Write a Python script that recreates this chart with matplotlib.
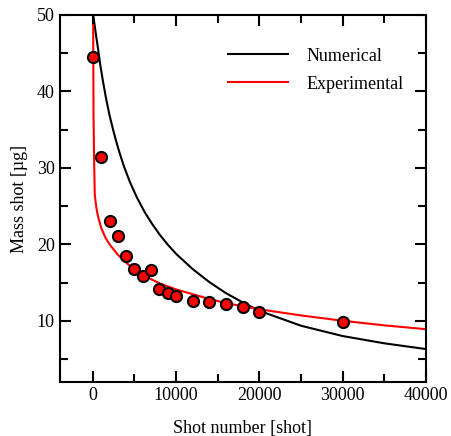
import numpy as np
import matplotlib
matplotlib.use('Agg')
import matplotlib.pyplot as plt
from matplotlib.ticker import MultipleLocator

plt.rcParams['font.family'] = ['Liberation Serif', 'DejaVu Serif']
plt.rcParams['mathtext.fontset'] = 'stix'

# measured points
shot_exp = [0, 1000, 2000, 3000, 4000, 5000, 6000, 7000, 8000, 9000, 10000,
            12000, 14000, 16000, 18000, 20000, 30000]
mass_exp = [44.55, 31.4, 23.0, 21.07, 18.45, 16.8, 15.9, 16.6, 14.1, 13.6, 13.3,
            12.65, 12.45, 12.25, 11.85, 11.2, 9.8]

# numerical curve
shot_num = [25, 300, 620, 900, 1220, 1600, 2000, 2500, 3030, 3700, 4430, 5300,
            6230, 7100, 8000, 9000, 10000, 12000, 14000, 16000, 18000, 20000,
            25000, 30000, 35000, 40000]
mass_num = [50.2, 48.0, 45.6, 43.4, 41.3, 39.0, 36.9, 34.7, 32.6, 30.3, 28.2, 26.1,
            24.2, 22.7, 21.3, 19.95, 18.75, 16.75, 15.05, 13.6, 12.4, 11.3,
            9.35, 8.0, 7.05, 6.3]

# experimental fit curve
shot_fit = [40, 80, 160, 230, 360, 500, 680, 1020, 1500, 2000, 3030, 4000, 5000,
            6700, 8000, 10000, 13500, 16000, 20000, 25000, 30000, 35000, 40000]
mass_fit = [48.7, 37.0, 30.5, 26.5, 25.3, 24.3, 23.4, 22.1, 20.9, 20.0, 18.6, 17.6, 16.7,
            15.6, 14.9, 14.1, 13.0, 12.3, 11.5, 10.7, 10.0, 9.4, 8.9]

fig = plt.figure(figsize=(4.51, 4.36), dpi=100)
ax = fig.add_axes([0.132, 0.124, 0.8126, 0.8416])

ax.plot(shot_num, mass_num, color='black', lw=1.5, label='Numerical')
ax.plot(shot_fit, mass_fit, color='red', lw=1.5, label='Experimental')
ax.plot(shot_exp, mass_exp, 'o', color='red', markeredgecolor='black',
        markeredgewidth=1.5, markersize=8, zorder=5)

ax.set_xlim(-4000, 40000)
ax.set_ylim(2, 50)
ax.xaxis.set_major_locator(MultipleLocator(10000))
ax.xaxis.set_minor_locator(MultipleLocator(5000))
ax.yaxis.set_major_locator(MultipleLocator(10))
ax.yaxis.set_minor_locator(MultipleLocator(5))
ax.tick_params(which='both', direction='in', top=True, right=True, width=1.5,
               labelsize=13)
ax.tick_params(which='major', length=8)
ax.tick_params(which='minor', length=6)
for s in ax.spines.values():
    s.set_linewidth(1.5)

ax.set_xlabel('Shot number [shot]', fontsize=13, labelpad=12)
ax.set_ylabel('Mass shot [µg]', fontsize=13, labelpad=6)

ax.legend(loc='upper right', frameon=False, fontsize=13, handlelength=3.3,
          handletextpad=1.0, labelspacing=0.6, bbox_to_anchor=(0.982, 0.955))

fig.savefig('out.png', dpi=100)
